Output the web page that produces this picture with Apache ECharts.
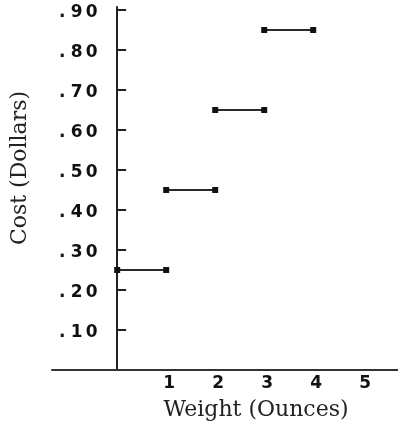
<!DOCTYPE html>
<html>
<head>
<meta charset="utf-8">
<script src="https://cdn.jsdelivr.net/npm/echarts@6/dist/echarts.min.js"></script>
<style>html,body{margin:0;padding:0;background:#fff;}#c{width:398px;height:427px;}</style>
</head>
<body>
<div id="c"></div>
<script>
// Step function: postage cost by weight
const stepStart = [0, 1, 2, 3];          // ounces (left end)
const stepEnd   = [1, 2, 3, 4];          // ounces (right end)
const stepCost  = [0.25, 0.45, 0.65, 0.85]; // dollars
const xTickLabels = [1, 2, 3, 4, 5];
const yTickValues = [0.1, 0.2, 0.3, 0.4, 0.5, 0.6, 0.7, 0.8, 0.9];
const xName = 'Weight (Ounces)';
const yName = 'Cost (Dollars)';

const X_MIN = -1.33, X_MAX = 5.73;
const Y_MIN = 0, Y_MAX = 0.9075;
const GRID_LEFT = 52, GRID_RIGHT = 0, CHART_W = 398;

const chart = echarts.init(document.getElementById('c'), null, {renderer: 'canvas'});

const series = stepCost.map((c, i) => ({
  type: 'line',
  data: [[stepStart[i], c], [stepEnd[i], c]],
  symbol: 'rect',
  symbolSize: 6,
  showSymbol: true,
  lineStyle: {color: '#2a2a2a', width: 2},
  itemStyle: {color: '#111'},
  silent: true,
  animation: false
}));

const labelFont = {fontFamily: 'DejaVu Sans', fontWeight: 'bold', fontSize: 17, color: '#111'};

// place the y axis at x = 0 (shift from grid left edge)
const pxPerUnit = (CHART_W - GRID_LEFT - GRID_RIGHT) / (X_MAX - X_MIN);
const yAxisShift = (0 - X_MIN) * pxPerUnit;

chart.setOption({
  animation: false,
  grid: {left: GRID_LEFT, right: GRID_RIGHT, top: 7, bottom: 57, containLabel: false, outerBoundsMode: 'none'},
  xAxis: {
    type: 'value',
    min: X_MIN,
    max: X_MAX,
    axisLine: {onZero: false, lineStyle: {color: '#333', width: 2}},
    axisTick: {show: false},
    splitLine: {show: false},
    axisLabel: Object.assign({
      customValues: xTickLabels,
      margin: 5,
      padding: [0, 0, 0, 6],
      formatter: v => String(v)
    }, labelFont)
  },
  yAxis: {
    type: 'value',
    min: Y_MIN,
    max: Y_MAX,
    offset: -yAxisShift,
    axisLine: {onZero: false, lineStyle: {color: '#222', width: 2}},
    axisTick: {inside: true, length: 9, customValues: yTickValues, lineStyle: {color: '#222', width: 2}},
    splitLine: {show: false},
    axisLabel: {
      customValues: yTickValues,
      margin: 18,
      formatter: v => {
        const s = '.' + Math.round(v * 100).toString().padStart(2, '0');
        return s.split('').map((ch, k) => (k === 0 ? '{d|' : '{c|') + ch + '}').join('');
      },
      rich: {
        c: Object.assign({width: 15, align: 'center', padding: [6, 0, 0, 0]}, labelFont),
        d: Object.assign({width: 14, align: 'center', padding: [6, 0, 0, 0]}, labelFont)
      }
    }
  },
  graphic: [
    {type: 'text', x: 256, y: 410, silent: true,
     style: {text: xName, font: '22px "DejaVu Serif"', fill: '#222',
             align: 'center', verticalAlign: 'middle', textAlign: 'center', textVerticalAlign: 'middle'}},
    {type: 'text', x: 20, y: 168, rotation: Math.PI / 2, silent: true,
     style: {text: yName, font: '22px "DejaVu Serif"', fill: '#222',
             align: 'center', verticalAlign: 'middle', textAlign: 'center', textVerticalAlign: 'middle'}}
  ],
  series: series
});
</script>
</body>
</html>
